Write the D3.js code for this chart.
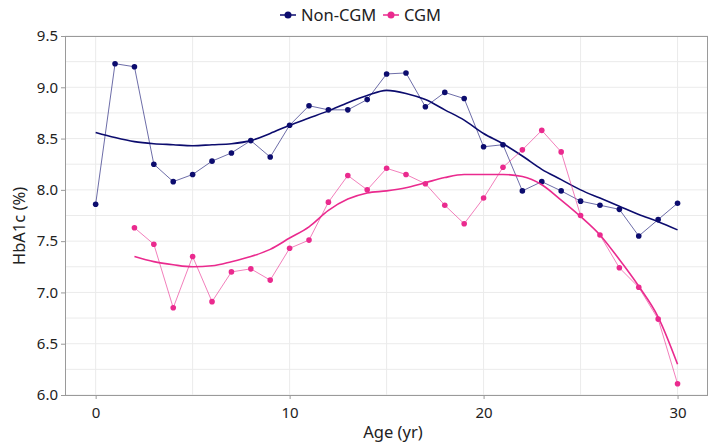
<!DOCTYPE html>
<html>
<head>
<meta charset="utf-8">
<script src="https://cdn.jsdelivr.net/npm/d3@7"></script>
<style>
  body { margin: 0; background: #fff; }
  svg { font-family: "Noto Sans", "Open Sans", sans-serif; }
</style>
</head>
<body>
<script>
// observed mean HbA1c by age
var nonCgmAges = d3.range(0, 31);
var nonCgmValues = [7.86, 9.23, 9.20, 8.25, 8.08, 8.15, 8.28, 8.36, 8.48, 8.32,
                    8.63, 8.82, 8.78, 8.78, 8.88, 9.13, 9.14, 8.81, 8.95, 8.89,
                    8.42, 8.44, 7.99, 8.08, 7.99, 7.89, 7.85, 7.81, 7.55, 7.71, 7.87];
var cgmAges = d3.range(2, 31);
var cgmValues = [7.63, 7.47, 6.85, 7.35, 6.91, 7.20, 7.23, 7.12,
                 7.43, 7.51, 7.88, 8.14, 8.00, 8.21, 8.15, 8.06, 7.85, 7.67,
                 7.92, 8.22, 8.39, 8.58, 8.37, 7.75, 7.56, 7.24, 7.05, 6.74, 6.11];

// smoothed trend curves
var nonCgmTrend = [8.56, 8.51, 8.47, 8.45, 8.44, 8.43, 8.44, 8.45, 8.48, 8.55,
                   8.63, 8.70, 8.77, 8.85, 8.92, 8.97, 8.94, 8.88, 8.78, 8.68,
                   8.55, 8.45, 8.33, 8.20, 8.10, 8.00, 7.92, 7.84, 7.76, 7.69, 7.61];
var cgmTrend = [7.35, 7.30, 7.27, 7.25, 7.26, 7.30, 7.35, 7.42,
                7.53, 7.64, 7.80, 7.91, 7.97, 7.99, 8.02, 8.07, 8.12, 8.15,
                8.15, 8.15, 8.13, 8.05, 7.90, 7.74, 7.56, 7.32, 7.06, 6.76, 6.30];

var xTicks = [0, 10, 20, 30];
var yTicks = [6.0, 6.5, 7.0, 7.5, 8.0, 8.5, 9.0, 9.5];

var navy = "#0c0c6e";
var pink = "#ea2a8e";

var width = 709, height = 448;
var margin = {top: 36, right: 1, bottom: 53, left: 65};

var svg = d3.select("body").append("svg")
    .attr("width", width)
    .attr("height", height);

var x = d3.scaleLinear().domain([-1.58, 31.57]).range([margin.left, width - margin.right]);
var y = d3.scaleLinear().domain([6.0, 9.5]).range([height - margin.bottom, margin.top]);

// grid
var grid = svg.append("g");
grid.selectAll(".gy")
  .data(d3.range(6.0, 9.51, 0.25))
  .enter().append("line")
    .attr("x1", margin.left).attr("x2", width - margin.right)
    .attr("y1", d => y(d)).attr("y2", d => y(d))
    .attr("stroke", "#ebebeb").attr("stroke-width", 1);
grid.selectAll(".gx")
  .data(d3.range(0, 31, 5))
  .enter().append("line")
    .attr("y1", margin.top).attr("y2", height - margin.bottom)
    .attr("x1", d => x(d)).attr("x2", d => x(d))
    .attr("stroke", "#ebebeb").attr("stroke-width", 1);

// frame
svg.append("rect")
  .attr("x", margin.left + 0.5).attr("y", margin.top + 0.5)
  .attr("width", width - margin.left - margin.right - 1)
  .attr("height", height - margin.top - margin.bottom)
  .attr("fill", "none").attr("stroke", "#9a9a9a");

// axes
var xAxis = svg.append("g")
  .attr("transform", "translate(0," + (height - margin.bottom) + ")")
  .call(d3.axisBottom(x).tickValues(xTicks).tickSize(4).tickSizeOuter(0));
var yAxis = svg.append("g")
  .attr("transform", "translate(" + margin.left + ",0)")
  .call(d3.axisLeft(y).tickValues(yTicks).tickFormat(d3.format(".1f")).tickSize(4).tickSizeOuter(0));
[xAxis, yAxis].forEach(function(a) {
  a.select(".domain").remove();
  a.selectAll("line").attr("stroke", "#9a9a9a");
  a.selectAll("text").attr("fill", "#222").style("font-size", "15px")
    .style("font-family", "'Noto Sans', sans-serif");
});
xAxis.selectAll("text").attr("dy", "1.05em");

svg.append("text")
  .attr("x", 393)
  .attr("y", 438)
  .attr("text-anchor", "middle")
  .attr("fill", "#222").style("font-size", "16.5px")
  .text("Age (yr)");
svg.append("text")
  .attr("transform", "translate(25,226) rotate(-90)")
  .attr("text-anchor", "middle")
  .attr("fill", "#222").style("font-size", "16.5px")
  .text("HbA1c (%)");

var line = d3.line().x(d => x(d[0])).y(d => y(d[1]));
var smooth = d3.line().curve(d3.curveMonotoneX).x(d => x(d[0])).y(d => y(d[1]));

function drawSeries(ages, values, trend, color) {
  var pts = ages.map((a, i) => [a, values[i]]);
  var tr = ages.map((a, i) => [a, trend[i]]);
  svg.append("path").datum(pts)
    .attr("d", line).attr("fill", "none")
    .attr("stroke", color).attr("stroke-opacity", 0.6).attr("stroke-width", 1);
  svg.append("path").datum(tr)
    .attr("d", smooth).attr("fill", "none")
    .attr("stroke", color).attr("stroke-width", 1.6);
  svg.append("g").selectAll("circle")
    .data(pts).enter().append("circle")
      .attr("cx", d => x(d[0])).attr("cy", d => y(d[1]))
      .attr("r", 2.8).attr("fill", color);
}
drawSeries(nonCgmAges, nonCgmValues, nonCgmTrend, navy);
drawSeries(cgmAges, cgmValues, cgmTrend, pink);

// legend
var legend = [{name: "Non-CGM", color: navy, x: 280}, {name: "CGM", color: pink, x: 383}];
var lg = svg.append("g").selectAll("g").data(legend).enter().append("g")
  .attr("transform", d => "translate(" + d.x + ",15)");
lg.append("line").attr("x1", 0).attr("x2", 16).attr("stroke", d => d.color).attr("stroke-width", 1.5);
lg.append("circle").attr("cx", 8).attr("r", 3.5).attr("fill", d => d.color);
lg.append("text").attr("x", 21).attr("dy", "0.36em")
  .attr("fill", "#222").style("font-size", "16.5px")
  .text(d => d.name);
</script>
</body>
</html>
